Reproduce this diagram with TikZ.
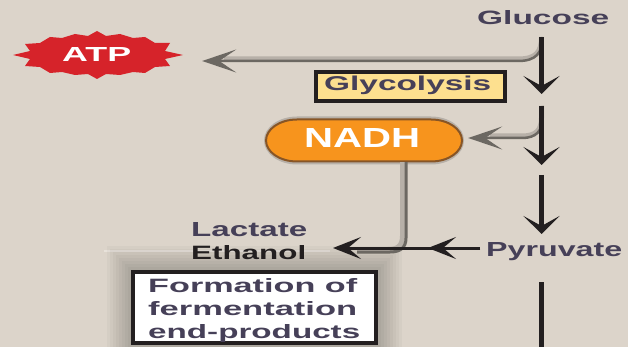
\documentclass[tikz,border=0pt]{standalone}
\usepackage{fontspec}
\setmainfont{Liberation Sans}
\usetikzlibrary{arrows.meta}
\definecolor{bg}{RGB}{220,212,202}
\definecolor{ink}{RGB}{35,31,32}
\definecolor{txt}{RGB}{70,64,88}
\definecolor{gl}{RGB}{183,176,168}
\definecolor{gd}{RGB}{108,104,98}
\definecolor{atpred}{RGB}{214,35,42}
\definecolor{nadhor}{RGB}{247,148,29}
\definecolor{nadhbr}{RGB}{135,85,38}
\definecolor{glyfill}{RGB}{253,224,143}
\newcommand{\fitt}[3]{\resizebox{#1pt}{#2pt}{\bfseries #3}}
\tikzset{
  lbl/.style={inner sep=0pt, anchor=base west, text=txt},
  vline/.style={draw=ink, line width=4.5pt},
  varrow/.style={draw=ink, line width=4.5pt, -{Stealth[length=18pt,width=36pt,inset=10pt]}},
  harrow/.style={draw=ink, line width=3pt, -{Stealth[length=28pt,width=22pt,inset=13pt]}},
  glightline/.style={draw=gl, line width=5pt, shorten >=22pt},
  gdarkarrow/.style={draw=gd, line width=2.5pt, -{Stealth[length=34pt,width=23pt,inset=17pt]}},
  glightplain/.style={draw=gl, line width=6pt},
  gdarkplain/.style={draw=gd, line width=3pt},
  boxstyle/.style={draw=ink, line width=4pt}
}
\begin{document}
\begin{tikzpicture}[x=1pt,y=-1pt]
\useasboundingbox (0,0) rectangle (628,347);
\fill[bg] (0,0) rectangle (628,347);

% faint line
\draw[draw={rgb,255:red,232;green,226;blue,218}, line width=2pt] (104,251) -- (330,251);

% shadow of formation box
\foreach \i in {1,...,8}
  \fill[black, opacity=0.026] (131-3*\i,270-3*\i) rectangle (378+3*\i,350);

% ATP starburst
\fill[atpred] (13,55) -- (30,51) -- (25,44) -- (40,43) -- (50,37) -- (62,38) -- (75,34) -- (88,36) -- (97,31)
  -- (106,36) -- (120,34) -- (133,38) -- (145,37) -- (155,43) -- (170,43) -- (165,51) -- (183,55)
  -- (165,59) -- (170,66) -- (155,67) -- (145,73) -- (133,72) -- (120,75) -- (106,74) -- (97,79)
  -- (88,74) -- (75,75) -- (62,72) -- (50,73) -- (40,67) -- (25,66) -- (30,59) -- cycle;
\node[inner sep=0pt, minimum width=170pt, minimum height=48pt, text=white] (atp) at (98,55) {};
\node[inner sep=0pt, anchor=base west, text=white] (atptxt) at (62,62) {\fitt{69}{14}{ATP}};

% Glucose
\node[lbl] (glucose) at (477,25) {\fitt{132}{14}{Glucose}};

% Glycolysis box
\draw[boxstyle, fill=glyfill] (316,72) rectangle (505,101);
\node[inner sep=0pt, minimum width=193pt, minimum height=33pt] (glyco) at (410.5,86.5) {};
\node[lbl] (glytxt) at (324,91) {\fitt{167}{14.5}{Glycolysis}};

% NADH pill
\fill[gl] (297,116.5) -- (431,116.5) arc[start angle=-90, end angle=90, x radius=33, y radius=24] -- (297,164.5)
  arc[start angle=90, end angle=270, x radius=33, y radius=24] -- cycle;
\draw[draw=nadhbr, line width=2pt, fill=nadhor] (297,119.5) -- (431,119.5) arc[start angle=-90, end angle=90, x radius=31, y radius=21] -- (297,161.5)
  arc[start angle=90, end angle=270, x radius=31, y radius=21] -- cycle;
\node[inner sep=0pt, minimum width=198pt, minimum height=43pt] (nadh) at (364,140.5) {};
\node[inner sep=0pt, anchor=base west, text=white] (nadhtxt) at (304,148) {\fitt{116}{19}{NADH}};

% Pyruvate, Lactate, Ethanol
\node[lbl] (pyr) at (486,256) {\fitt{136}{14}{Pyruvate}};
\node[lbl] (lac) at (191,236) {\fitt{116}{14}{Lactate}};
\node[lbl, text=ink] (eth) at (191,259) {\fitt{115}{14}{Ethanol}};

% Formation box
\draw[boxstyle, fill=white] (133,272) rectangle (376,343);
\node[inner sep=0pt, minimum width=247pt, minimum height=75pt] (form) at (254.5,307.5) {};
\node[lbl] (f1) at (148,292) {\fitt{209}{14}{Formation of}};
\node[lbl] (f2) at (148,315) {\fitt{209}{14}{fermentation}};
\node[lbl] (f3) at (148,338) {\fitt{212}{14}{end-products}};

% main pathway coordinates
\coordinate (s1a) at (541.5,37);
\coordinate (s1b) at (541.5,94);
\coordinate (s2a) at (541.5,106);
\coordinate (s2b) at (541.5,165);
\coordinate (s3a) at (541.5,175);
\coordinate (s3b) at (541.5,234);
\coordinate (s4a) at (541.5,282);
\coordinate (s4b) at (541.5,350);
\coordinate (pyrin) at (480,248);
\coordinate (midtip) at (428,248);
\coordinate (ethtip) at (333,248);

% gray branch to ATP
\draw[glightline] (s1a) .. controls (541.5,52) and (536,59) .. (518,59) -- ([xshift=19pt,yshift=-4pt]atp.east);
\draw[gdarkarrow] ([xshift=1pt]s1a) .. controls (542.5,53) and (536,61) .. (518,61) -- ([xshift=19pt,yshift=-6pt]atp.east);

% gray branch to NADH
\draw[glightline] (s2a) -- (541.5,118) .. controls (541.5,130) and (536,136) .. (522,136) -- ([xshift=5pt,yshift=4.5pt]nadh.east);
\draw[gdarkarrow] ([xshift=1pt]s2a) -- (542.5,118) .. controls (542.5,131) and (536,138) .. (522,138) -- ([xshift=5pt,yshift=2.5pt]nadh.east);

% main vertical arrows
\draw[varrow] (s1a) -- (s1b);
\draw[varrow] (s2a) -- (s2b);
\draw[varrow] (s3a) -- (s3b);
\draw[vline] (s4a) -- (s4b);

% gray line from NADH to Ethanol
\draw[glightplain] ([xshift=39pt]nadh.south) -- (403,236) .. controls (403,246) and (398,250) .. (388,250) -- (357,250);
\draw[gdarkplain] ([xshift=42pt]nadh.south) -- (406,238) .. controls (406,248) and (400,252) .. (390,252) -- (357,252);

% black horizontal arrows Pyruvate -> Ethanol
\draw[harrow] (pyrin) -- (midtip);
\draw[harrow] (pyrin) -- (ethtip);
\end{tikzpicture}
\end{document}
